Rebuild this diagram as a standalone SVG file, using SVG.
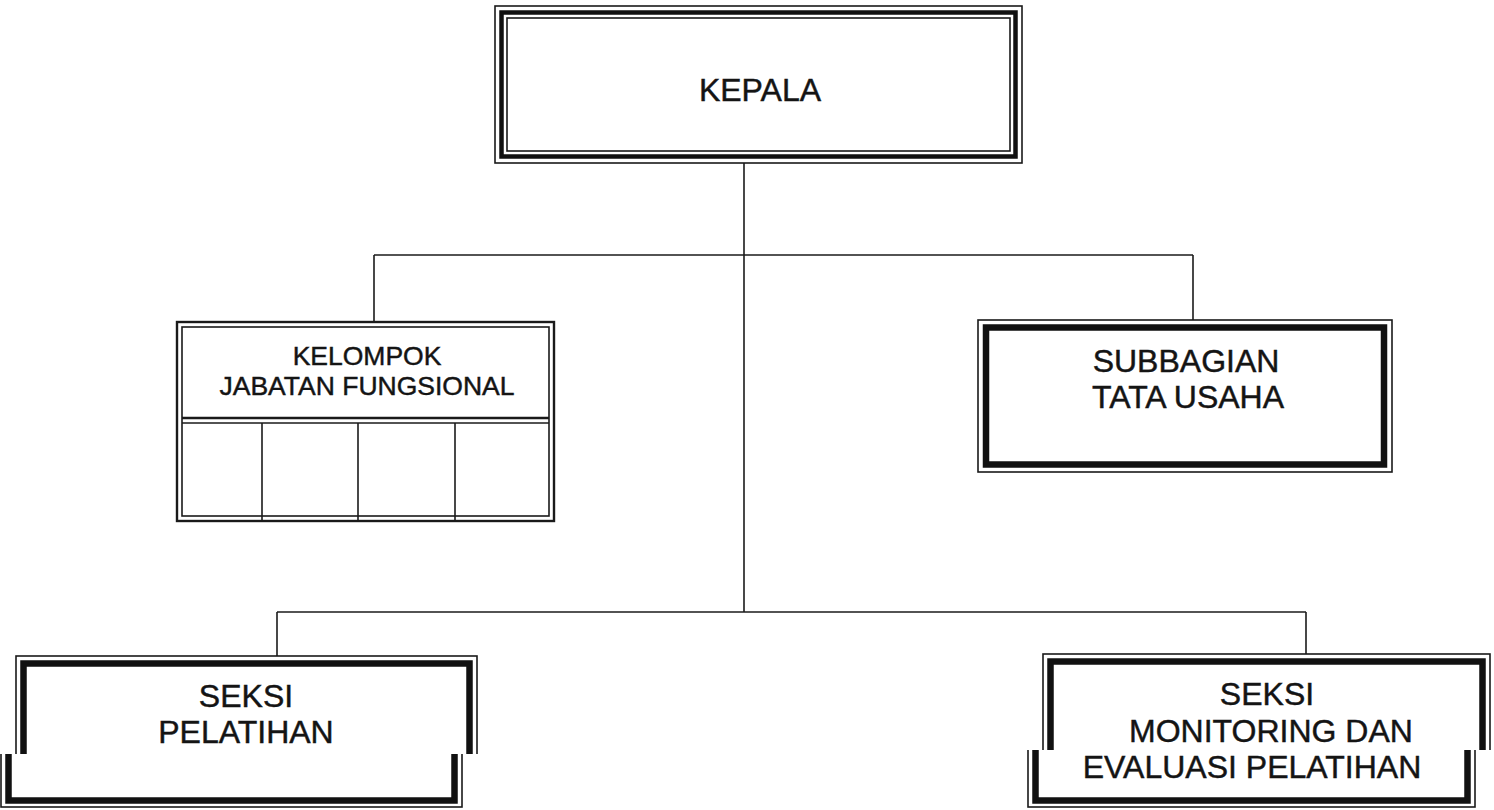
<svg xmlns="http://www.w3.org/2000/svg" width="1494" height="810" viewBox="0 0 1494 810">
<style>
.thin{fill:none;stroke:#1a1a1a;stroke-width:1.6}
.thick{fill:none;stroke:#111;stroke-width:5.5}
.mid{fill:none;stroke:#1a1a1a;stroke-width:2.4}
.line{stroke:#1a1a1a;stroke-width:1.6;fill:none}
.t{font-family:"Liberation Sans",Arial,sans-serif;fill:#141414;stroke:#141414;stroke-width:0.45;text-anchor:middle}
.big{font-size:32px}
.small{font-size:26.5px}
</style>
<defs>
<clipPath id="clipTopL" clipPathUnits="userSpaceOnUse"><rect x="-100" y="0" width="1700" height="754"/></clipPath>
<clipPath id="clipBotL" clipPathUnits="userSpaceOnUse"><rect x="-100" y="754" width="1700" height="100"/></clipPath>
<clipPath id="clipTopR" clipPathUnits="userSpaceOnUse"><rect x="-100" y="0" width="1700" height="750"/></clipPath>
<clipPath id="clipBotR" clipPathUnits="userSpaceOnUse"><rect x="-100" y="750" width="1700" height="100"/></clipPath>
</defs>
<rect width="1494" height="810" fill="#fff"/>

<g id="connectors">
<line class="line" x1="744" y1="163" x2="744" y2="612"/>
<line class="line" x1="374" y1="255" x2="1193" y2="255"/>
<line class="line" x1="374" y1="255" x2="374" y2="322"/>
<line class="line" x1="1193" y1="255" x2="1193" y2="320"/>
<line class="line" x1="277" y1="612" x2="1306" y2="612"/>
<line class="line" x1="277" y1="612" x2="277" y2="656"/>
<line class="line" x1="1306" y1="612" x2="1306" y2="654"/>
</g>

<g id="kepala">
<rect class="thin" x="495" y="6" width="527" height="157"/>
<rect class="thick" x="501.5" y="12.5" width="514" height="144" style="stroke-width:4.5"/>
<rect class="thin" x="507" y="18" width="503" height="133"/>
<text class="t big" x="760" y="101">KEPALA</text>
</g>

<g id="kelompok">
<rect class="mid" x="177" y="322" width="377" height="199"/>
<rect class="thin" x="182" y="327" width="367" height="189"/>
<line class="mid" x1="182" y1="418" x2="549" y2="418"/>
<line class="thin" x1="182" y1="423" x2="549" y2="423"/>
<line class="line" x1="262" y1="423" x2="262" y2="521"/>
<line class="line" x1="358" y1="423" x2="358" y2="521"/>
<line class="line" x1="455" y1="423" x2="455" y2="521"/>
<text class="t small" x="367" y="365">KELOMPOK</text>
<text class="t small" x="367" y="395">JABATAN FUNGSIONAL</text>
</g>

<g id="subbagian">
<rect class="thin" x="978" y="320" width="414" height="152"/>
<rect class="thick" x="986" y="327.5" width="398" height="137" style="stroke-width:6.5"/>
<text class="t big" x="1186" y="372">SUBBAGIAN</text>
<text class="t big" x="1188" y="408">TATA USAHA</text>
</g>

<g id="seksi-pelatihan">
<g clip-path="url(#clipTopL)">
<rect class="thin" x="16" y="656" width="461" height="151"/>
<rect class="thick" x="23.5" y="663.5" width="446" height="137" style="stroke-width:6.5"/>
<text class="t big" x="246" y="707">SEKSI</text>
<text class="t big" x="246" y="743">PELATIHAN</text>
</g>
<g clip-path="url(#clipBotL)" transform="translate(-15,0)">
<rect class="thin" x="16" y="656" width="461" height="151"/>
<rect class="thick" x="23.5" y="663.5" width="446" height="137" style="stroke-width:6.5"/>
</g>
</g>

<g id="seksi-monitoring">
<g clip-path="url(#clipTopR)">
<rect class="thin" x="1043" y="654" width="447" height="153"/>
<rect class="thick" x="1050.5" y="661.5" width="432" height="139" style="stroke-width:6.5"/>
<text class="t big" x="1267" y="705">SEKSI</text>
<text class="t big" x="1271" y="742">MONITORING DAN</text>
</g>
<g clip-path="url(#clipBotR)" transform="translate(-15,0)">
<rect class="thin" x="1043" y="654" width="447" height="153"/>
<rect class="thick" x="1050.5" y="661.5" width="432" height="139" style="stroke-width:6.5"/>
<text class="t big" x="1267" y="778">EVALUASI PELATIHAN</text>
</g>
</g>
</svg>
